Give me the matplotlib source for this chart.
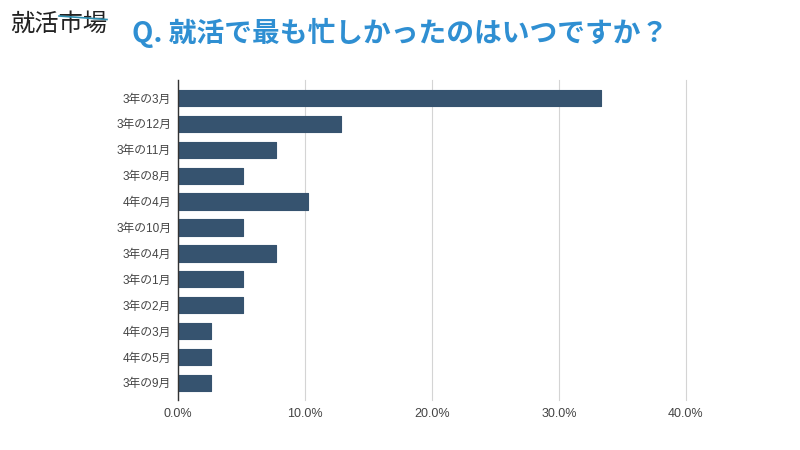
import matplotlib
matplotlib.use("Agg")
import matplotlib.pyplot as plt
from matplotlib.lines import Line2D

plt.rcParams["font.family"] = ["Liberation Sans", "Noto Sans CJK JP"]

months = ["3年の3月", "3年の12月", "3年の11月", "3年の8月", "4年の4月", "3年の10月",
          "3年の4月", "3年の1月", "3年の2月", "4年の3月", "4年の5月", "3年の9月"]
shares = [33.3, 12.8, 7.7, 5.1, 10.2, 5.1, 7.7, 5.1, 5.1, 2.6, 2.6, 2.6]
x_ticks = [0, 10, 20, 30, 40]
x_labels = ["0.0%", "10.0%", "20.0%", "30.0%", "40.0%"]

title = "Q. 就活で最も忙しかったのはいつですか？"
logo = "就活市場"

W, H = 800, 450
fig = plt.figure(figsize=(8, 4.5), dpi=100, facecolor="white")
ax = fig.add_axes([178 / W, 1 - 400 / H, (686 - 178) / W, 320 / H])

ypos = list(range(len(months)))
ax.barh(ypos, shares, height=0.63, color="#36536f", edgecolor="#36536f",
        linewidth=0.8, joinstyle="round", zorder=3)

ax.set_xlim(0, 40)
ax.set_ylim(11.66, -0.695)
ax.set_xticks(x_ticks)
ax.set_xticklabels(x_labels, fontsize=9, color="#444444")
ax.set_yticks(ypos)
ax.set_yticklabels(months, fontsize=8.5, color="#444444")
ax.tick_params(length=0)
ax.tick_params(axis="x", pad=6)
ax.tick_params(axis="y", pad=5)
ax.grid(axis="x", color="#d4d4d4", linewidth=0.8, zorder=0)
for line in ax.get_xgridlines():
    line.set_clip_on(False)
for side in ["top", "right", "bottom"]:
    ax.spines[side].set_visible(False)
ax.spines["left"].set_color("#333333")
ax.spines["left"].set_linewidth(1)
ax.spines["left"].set_zorder(4)

fig.text(132 / W, 1 - 33 / H, title, fontfamily="Noto Sans CJK JP", fontsize=20,
         fontweight="bold", color="#2f8fd2", ha="left", va="center")

# logo top left, the line runs through the last two characters
fig.text(10 / W, 1 - 24 / H, logo, fontfamily="Noto Sans CJK JP", fontsize=17.5,
         color="#222222", ha="left", va="center")
fig.add_artist(Line2D([59 / W, 107 / W], [1 - 16 / H, 1 - 19.5 / H], color="#2f8fb0",
                      linewidth=1.2, zorder=5))

fig.savefig("out.png", dpi=100)
